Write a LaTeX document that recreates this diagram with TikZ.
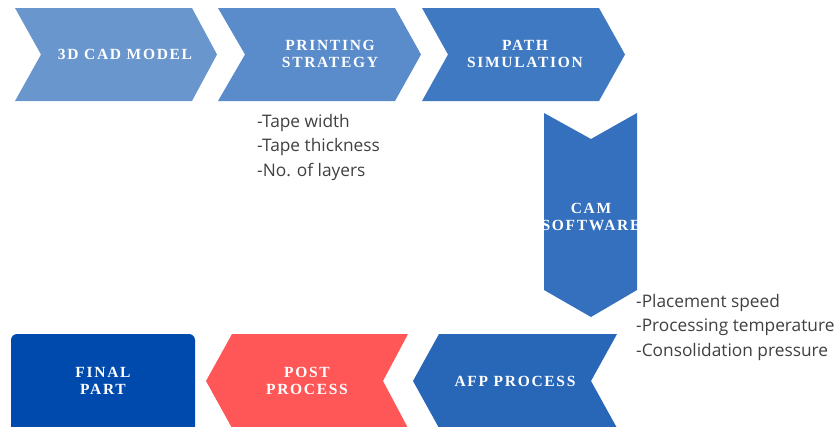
\documentclass[tikz,border=0pt]{standalone}
\usepackage{fontspec}
\setmainfont{Open Sans}
\newfontfamily\chevfont[LetterSpace=11]{Liberation Serif}
\definecolor{cA}{HTML}{6A96CE}
\definecolor{cB}{HTML}{5A8BCB}
\definecolor{cC}{HTML}{3F79C2}
\definecolor{cD}{HTML}{3470BE}
\definecolor{cE}{HTML}{2866B8}
\definecolor{cF}{HTML}{004AAD}
\definecolor{cG}{HTML}{FF5757}
\definecolor{txt}{HTML}{404040}
\tikzset{
  chevtext/.style={text=white, font=\chevfont\bfseries\fontsize{15.5}{17.5}\selectfont, align=center, inner sep=0pt},
  note/.style={text=txt, font=\fontsize{17.3}{24.5}\selectfont, align=left, anchor=north west, inner sep=0pt}
}
\begin{document}
\begin{tikzpicture}[x=1pt,y=-1pt]
\clip (0,0) rectangle (835,426);
% top row
\fill[cA] (15,8) -- (192,8) -- (217,54.5) -- (192,101) -- (15,101) -- (41,54.5) -- cycle;
\fill[cB] (218,8) -- (395,8) -- (421,54.5) -- (395,101) -- (218,101) -- (245,54.5) -- cycle;
\fill[cC] (422,8) -- (599,8) -- (625,54.5) -- (599,101) -- (422,101) -- (448,54.5) -- cycle;
% vertical
\fill[cD] (544,113) -- (591,139) -- (637,113) -- (637,290) -- (591,317) -- (544,290) -- cycle;
% bottom row
\fill[cE] (617,334) -- (439,334) -- (413,381) -- (439,428) -- (617,428) -- (591,381) -- cycle;
\fill[cG] (408,334) -- (232,334) -- (206,381) -- (232,428) -- (408,428) -- (383,381) -- cycle;
\fill[cF, rounded corners=6pt] (11,334) rectangle (195,440);
% texts
\node[chevtext] (cad) at (125,54) {3D CAD MODEL};
\node[chevtext] (print) at (330,54) {PRINTING\\STRATEGY};
\node[chevtext] (path) at (525,54) {PATH\\SIMULATION};
\node[chevtext] (cam) at (591,217) {CAM\\SOFTWARE};
\node[chevtext] (afp) at (515,381) {AFP PROCESS};
\node[chevtext] (post) at (307,381) {POST\\PROCESS};
\node[chevtext] (final) at (103,381) {FINAL\\PART};
\node[note] (params1) at (257,114) {-Tape width\\-Tape thickness\\-No. of layers};
\node[note] (params2) at (636,294) {-Placement speed\\-Processing temperature\\-Consolidation pressure};
\end{tikzpicture}
\end{document}
